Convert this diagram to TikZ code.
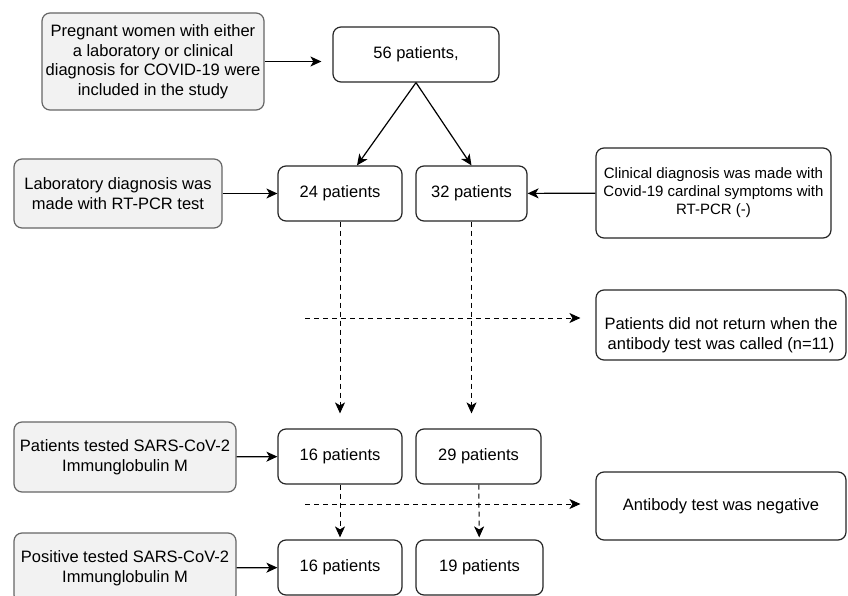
\documentclass[tikz,border=0pt]{standalone}
\usepackage{fontspec}
\setmainfont{Liberation Sans}
\usetikzlibrary{arrows.meta}

\begin{document}
\begin{tikzpicture}[x=1pt, y=-1pt, >={Stealth[length=11pt,width=10pt,inset=3pt]},
        graybox/.style={draw=black!60, fill=gray!10, rounded corners=8pt, line width=1.2pt, align=center, inner sep=0pt, font=\fontsize{16.5}{19.5}\selectfont},
        whitebox/.style={draw=black!85, fill=white, rounded corners=8pt, line width=1.2pt, align=center, inner sep=0pt, font=\fontsize{16.5}{19.5}\selectfont},
        solidarrow/.style={->, line width=1.2pt},
        dasharrow/.style={->, line width=1pt, dash pattern=on 5pt off 4pt}]
        \clip (0,0) rectangle (848,596);
        % inclusion
        \node[graybox, minimum width=222, minimum height=97] (preg) at (153,61.5) {Pregnant women with either\\a laboratory or clinical\\diagnosis for COVID-19 were\\included in the study};
        \node[whitebox, minimum width=166, minimum height=55] (n56) at (416,54.5) {56 patients,};
        % diagnosis
        \node[graybox, minimum width=208, minimum height=69] (lab) at (118,193.5) {Laboratory diagnosis was\\made with RT-PCR test};
        \node[whitebox, minimum width=124, minimum height=55] (n24) at (340,193.5) {24 patients};
        \node[whitebox, minimum width=111, minimum height=55] (n32) at (471.5,193.5) {32 patients};
        \node[whitebox, minimum width=235, minimum height=90, font=\fontsize{15}{18}\selectfont] (clin) at (713.5,193) {Clinical diagnosis was made with\\Covid-19 cardinal symptoms with\\RT-PCR (-)};
        % lost to follow-up
        \node[whitebox, minimum width=250, minimum height=70] (noret) at (721,325) {\rule{0pt}{32pt}Patients did not return when the\\antibody test was called (n=11)};
        % antibody tests
        \node[graybox, minimum width=222, minimum height=70] (tested) at (125,457) {Patients tested SARS-CoV-2\\Immunglobulin M};
        \node[whitebox, minimum width=124, minimum height=55] (n16a) at (340,456.5) {16 patients};
        \node[whitebox, minimum width=125, minimum height=55] (n29) at (478.5,456.5) {29 patients};
        \node[whitebox, minimum width=250, minimum height=68] (neg) at (721,506) {Antibody test was negative};
        \node[graybox, minimum width=222, minimum height=70] (pos) at (125,568) {Positive tested SARS-CoV-2\\Immunglobulin M};
        \node[whitebox, minimum width=124, minimum height=55] (n16b) at (340,567.5) {16 patients};
        \node[whitebox, minimum width=127, minimum height=55] (n19) at (479.5,567.5) {19 patients};

        \coordinate (d1) at (305,318);
        \coordinate (d2) at (305,504);

        \draw[solidarrow, shorten >=11pt] (preg.east) -- (preg.east -| n56.west);
        \draw[solidarrow] (n56.south) -- ([xshift=17pt]n24.north);
        \draw[solidarrow] (n56.south) -- (n32.north);
        \draw[solidarrow] (lab) -- (n24);
        \draw[solidarrow] (clin) -- (n32);
        \draw[solidarrow] (tested) -- (n16a);
        \draw[solidarrow] (pos) -- (n16b);

        \draw[dasharrow, shorten >=15pt] (n24) -- (n16a);
        \draw[dasharrow, shorten >=15pt] (n32.south) -- (n32.south |- n29.north);
        \draw[dasharrow, shorten >=15pt] (d1) -- (d1 -| noret.west);
        \draw[dasharrow, shorten >=2pt] (n16a) -- (n16b);
        \draw[dasharrow, shorten >=2pt] (n29) -- (n19);
        \draw[dasharrow, shorten >=15pt] (d2) -- (d2 -| neg.west);
    \end{tikzpicture}
\end{document}
